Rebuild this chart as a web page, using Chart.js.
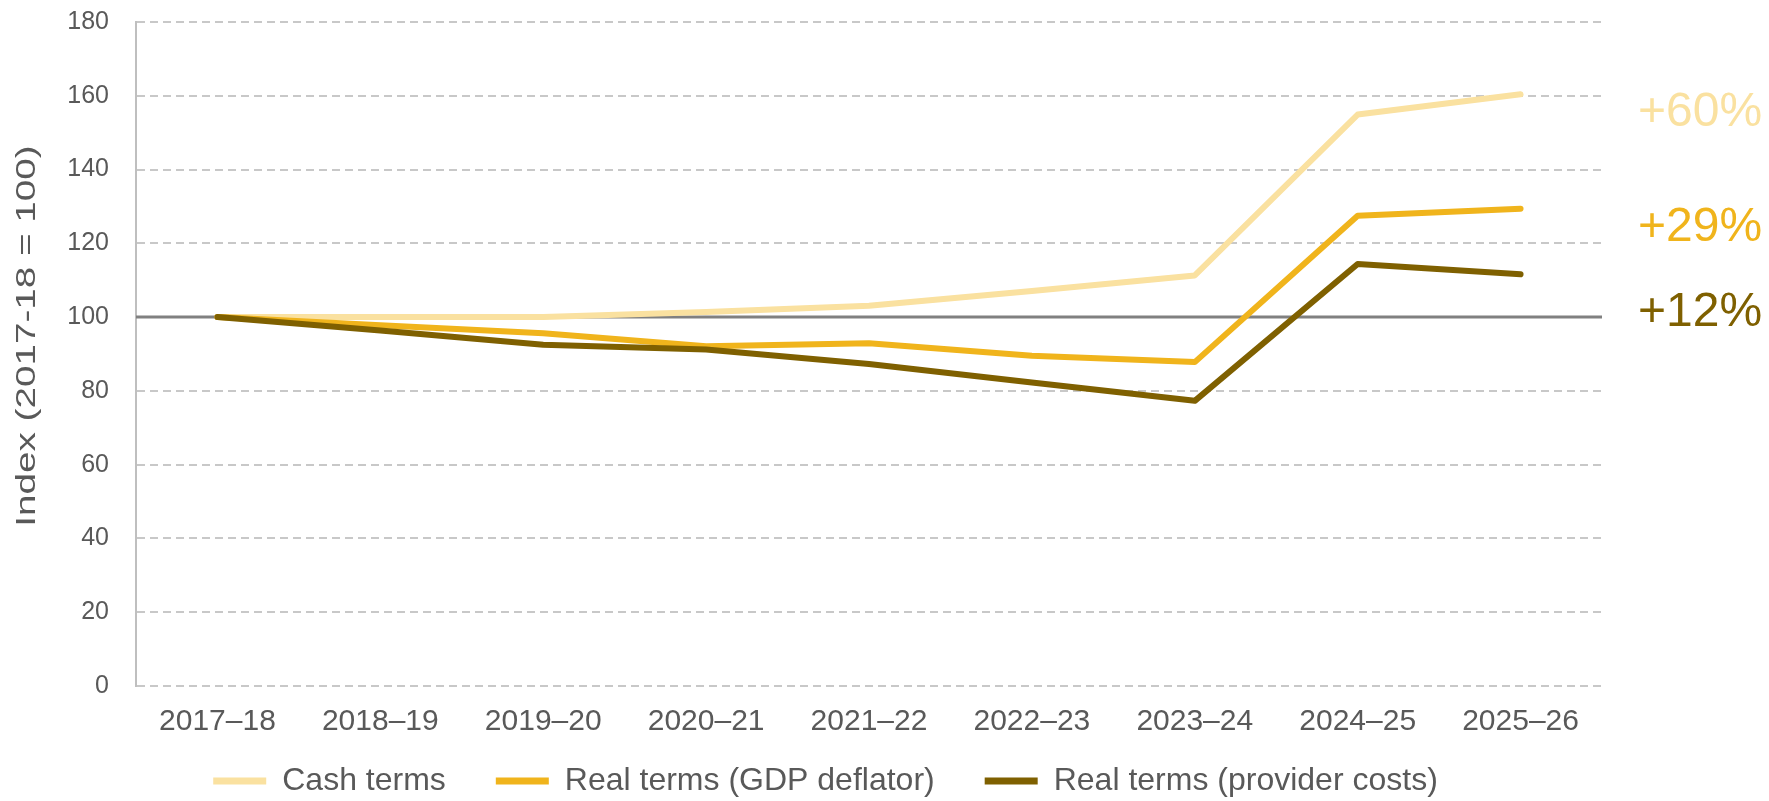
<!DOCTYPE html>
<html>
<head>
<meta charset="utf-8">
<title>Index chart</title>
<script src="https://cdn.jsdelivr.net/npm/chart.js@4.4.1/dist/chart.umd.min.js"></script>
<style>
    body { margin: 0; background: #ffffff; }
    #wrap { width: 1769px; height: 801px; position: relative; }
</style>
</head>
<body>
<div id="wrap"><canvas id="indexChart"></canvas></div>
<script>
const years = ['2017–18', '2018–19', '2019–20', '2020–21', '2021–22', '2022–23', '2023–24', '2024–25', '2025–26'];
const cashTerms = [100, 100, 100, 101.4, 103.1, 107.1, 111.3, 154.9, 160.4];
const gdpDeflator = [100, 97.8, 95.6, 92.1, 92.9, 89.5, 87.8, 127.5, 129.4];
const providerCosts = [100, 96.4, 92.5, 91.2, 87.3, 82.3, 77.3, 114.4, 111.6];
const yTicks = [0, 20, 40, 60, 80, 100, 120, 140, 160, 180];
const endLabels = ['+60%', '+29%', '+12%'];

const grey = '#595959';
const colors = ['#FAE1A0', '#F0B41C', '#7F6000'];

// where the end labels sit, in axis units
const endLabelAt = [155.4, 124.1, 101.1];

const endLabelPlugin = {
    id: 'endLabels',
    beforeDatasetsDraw(chart) {
        // solid base line at 100
        const ctx = chart.ctx;
        const area = chart.chartArea;
        const y = chart.scales.y.getPixelForValue(100);
        ctx.save();
        ctx.strokeStyle = '#808080';
        ctx.lineWidth = 3;
        ctx.beginPath();
        ctx.moveTo(area.left, y);
        ctx.lineTo(area.right, y);
        ctx.stroke();
        ctx.restore();
    },
    afterDraw(chart) {
        const ctx = chart.ctx;
        const area = chart.chartArea;
        ctx.save();
        ctx.font = '48px "Liberation Sans", Arial, sans-serif';
        ctx.textAlign = 'left';
        ctx.textBaseline = 'middle';
        endLabels.forEach((txt, i) => {
            ctx.fillStyle = colors[i];
            ctx.fillText(txt, area.right + 36, chart.scales.y.getPixelForValue(endLabelAt[i]));
        });

        // y axis title, stretched along its length like the original
        ctx.translate(27, (area.top + area.bottom) / 2 - 18);
        ctx.rotate(-Math.PI / 2);
        ctx.scale(1.38, 1);
        ctx.font = '28px "Liberation Sans", Arial, sans-serif';
        ctx.fillStyle = grey;
        ctx.textAlign = 'center';
        ctx.fillText('Index (2017-18 = 100)', 0, 0);
        ctx.restore();
    }
};

const ctx = document.getElementById('indexChart').getContext('2d');
new Chart(ctx, {
    type: 'line',
    data: {
        labels: years,
        datasets: [{
            label: 'Cash terms',
            data: cashTerms,
            borderColor: colors[0],
            backgroundColor: colors[0],
            order: 2
        }, {
            label: 'Real terms (GDP deflator)',
            data: gdpDeflator,
            borderColor: colors[1],
            backgroundColor: colors[1],
            order: 1
        }, {
            label: 'Real terms (provider costs)',
            data: providerCosts,
            borderColor: colors[2],
            backgroundColor: colors[2],
            order: 0
        }]
    },
    options: {
        responsive: true,
        maintainAspectRatio: false,
        animation: false,
        elements: {
            line: { borderWidth: 6, tension: 0, borderCapStyle: 'round', borderJoinStyle: 'round' },
            point: { radius: 0, hoverRadius: 0 }
        },
        layout: {
            padding: { top: 22, right: 118, bottom: -6, left: 0 }
        },
        scales: {
            x: {
                offset: true,
                grid: { display: false },
                border: { display: false },
                ticks: {
                    color: grey,
                    font: { family: '"Liberation Sans", Arial, sans-serif', size: 30 },
                    // mirrored + negative padding so the labels are not clipped to the short axis box
                    mirror: true,
                    padding: -54,
                    maxRotation: 0,
                    autoSkip: false
                },
                afterFit: scale => { scale.height = 29; }
            },
            y: {
                min: 0,
                max: 180,
                afterBuildTicks: scale => { scale.ticks = yTicks.map(v => ({ value: v })); },
                grid: {
                    drawTicks: true,
                    tickLength: 24,
                    tickColor: 'rgba(0,0,0,0)',
                    lineWidth: 2,
                    color: c => (c.tick && c.tick.value === 100 ? 'rgba(0,0,0,0)' : '#C8C8C8')
                },
                border: { display: true, color: '#BFBFBF', width: 2, dash: [8, 5] },
                ticks: {
                    color: grey,
                    font: { family: '"Liberation Sans", Arial, sans-serif', size: 25 },
                    padding: 3
                },
                afterFit: scale => { scale.width = 136; }
            },
            pad: {
                type: 'linear',
                position: 'right',
                ticks: { display: false },
                grid: { display: false },
                border: { display: false },
                afterFit: scale => { scale.width = 49; }
            }
        },
        plugins: {
            tooltip: { enabled: false },
            legend: {
                position: 'bottom',
                labels: {
                    color: grey,
                    font: { family: '"Liberation Sans", Arial, sans-serif', size: 32 },
                    boxWidth: 53,
                    boxHeight: 7,
                    padding: 50,
                    sort: (a, b) => a.datasetIndex - b.datasetIndex,
                    generateLabels: chart => Chart.defaults.plugins.legend.labels.generateLabels(chart)
                        .map(item => ({ ...item, lineWidth: 0 }))
                }
            }
        }
    },
    plugins: [endLabelPlugin]
});
</script>
</body>
</html>
